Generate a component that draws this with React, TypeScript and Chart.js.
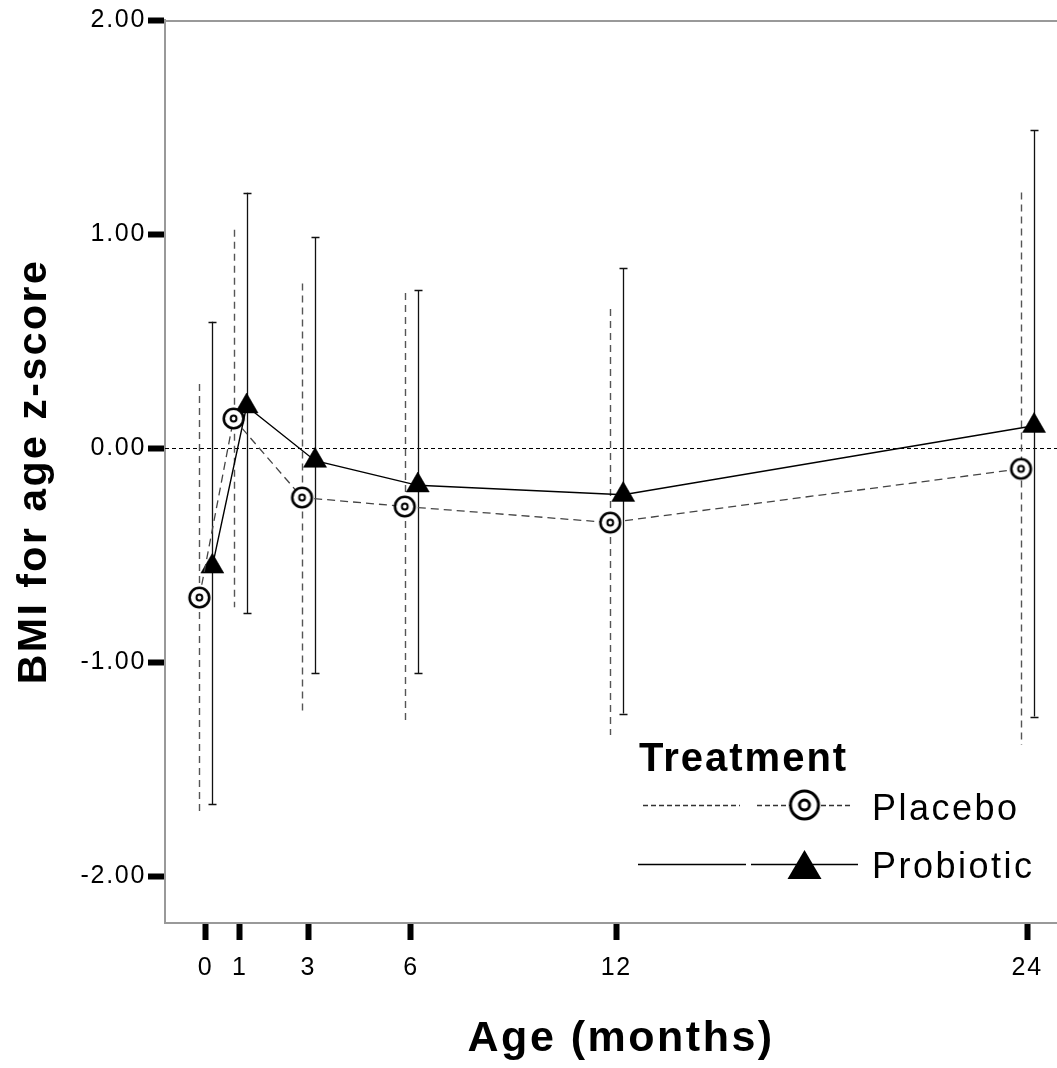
import React, { useEffect, useRef } from "react";
import { Chart, registerables } from "chart.js";

Chart.register(...registerables);

// ---------- data ----------
const months = [0, 1, 3, 6, 12, 24];
const seriesNames = ["Placebo", "Probiotic"];
const placeboMean = [-0.697, 0.139, -0.23, -0.272, -0.347, -0.096];
const placeboUpper = [0.3, 1.021, 0.769, 0.725, 0.65, 1.195];
const placeboLower = [-1.694, -0.742, -1.227, -1.27, -1.339, -1.386];
const probioticMean = [-0.552, 0.196, -0.058, -0.173, -0.217, 0.105];
const probioticUpper = [0.591, 1.193, 0.987, 0.737, 0.842, 1.485];
const probioticLower = [-1.663, -0.77, -1.049, -1.049, -1.239, -1.253];
const yTicks = [-2, -1, 0, 1, 2];
const placeboOffset = -0.18;
const probioticOffset = 0.2;
const legendTitle = "Treatment";
const xTitle = "Age (months)";
const yTitle = "BMI for age z-score";

const FONT = "'Liberation Sans', Arial, Helvetica, sans-serif";
const CANVAS_W = 1091; // plot runs past the right edge of the 1057px frame, as in the reference
const CANVAS_H = 1068;

function makeCircleMarker(outerR: number, innerR: number, outerW: number, innerW: number) {
  const size = Math.ceil((outerR + outerW) * 2 + 2);
  const c = document.createElement("canvas");
  c.width = size;
  c.height = size;
  const g = c.getContext("2d")!;
  const m = size / 2;
  g.beginPath();
  g.arc(m, m, outerR, 0, Math.PI * 2);
  g.fillStyle = "#fff";
  g.fill();
  g.lineWidth = outerW;
  g.strokeStyle = "#000";
  g.stroke();
  g.beginPath();
  g.arc(m, m, innerR, 0, Math.PI * 2);
  g.lineWidth = innerW;
  g.stroke();
  return c;
}

const spacingPlugin = {
  id: "letterSpacing",
  beforeDraw(chart: any) {
    (chart.ctx as any).letterSpacing = "2.5px"; // axis titles
  },
  afterDatasetsDraw(chart: any) {
    (chart.ctx as any).letterSpacing = "1.7px"; // tick labels (drawn after datasets, ticks.z = 1)
  },
};

const errorBarPlugin = {
  id: "errorBars",
  beforeDatasetsDraw(chart: any) {
    const { ctx, chartArea, scales } = chart;
    const x = scales.x;
    const y = scales.y;
    ctx.save();
    // top frame line
    ctx.beginPath();
    ctx.setLineDash([]);
    ctx.strokeStyle = "#999";
    ctx.lineWidth = 2;
    ctx.moveTo(chartArea.left, chartArea.top + 1);
    ctx.lineTo(chartArea.right, chartArea.top + 1);
    ctx.stroke();
    // zero reference line
    const y0 = Math.round(y.getPixelForValue(0)) + 0.5;
    ctx.beginPath();
    ctx.setLineDash([4, 3]);
    ctx.strokeStyle = "#000";
    ctx.lineWidth = 1;
    ctx.moveTo(chartArea.left, y0);
    ctx.lineTo(chartArea.right, y0);
    ctx.stroke();
    chart.data.datasets.forEach((ds: any) => {
      const lo: number[] = ds.errLower;
      const hi: number[] = ds.errUpper;
      ds.data.forEach((p: any, i: number) => {
        const px = Math.round(x.getPixelForValue(p.x)) + 0.5;
        const pHi = y.getPixelForValue(hi[i]);
        const pLo = y.getPixelForValue(lo[i]);
        ctx.beginPath();
        if (ds.errDashed) {
          ctx.setLineDash([7, 5]);
          ctx.strokeStyle = "#555";
          ctx.lineWidth = 1.4;
        } else {
          ctx.setLineDash([]);
          ctx.strokeStyle = "#111";
          ctx.lineWidth = 1.3;
        }
        ctx.moveTo(px, pHi);
        ctx.lineTo(px, pLo);
        ctx.stroke();
        if (ds.errCaps) {
          ctx.beginPath();
          ctx.setLineDash([]);
          ctx.moveTo(px - 4, Math.round(pHi) + 0.5);
          ctx.lineTo(px + 4, Math.round(pHi) + 0.5);
          ctx.moveTo(px - 4, Math.round(pLo) + 0.5);
          ctx.lineTo(px + 4, Math.round(pLo) + 0.5);
          ctx.stroke();
        }
      });
    });
    ctx.restore();
  },
};

function makeLegendPlugin(big: HTMLCanvasElement) {
  return {
    id: "customLegend",
    afterDraw(chart: any) {
      const { ctx } = chart;
      ctx.save();
      ctx.fillStyle = "#000";
      ctx.textBaseline = "alphabetic";
      ctx.textAlign = "left";
      ctx.letterSpacing = "2px";
      ctx.font = `bold 40px ${FONT}`;
      ctx.fillText(legendTitle, 639, 771);
      // Placebo row
      ctx.beginPath();
      ctx.setLineDash([5, 3]);
      ctx.strokeStyle = "#333";
      ctx.lineWidth = 1.3;
      ctx.moveTo(643, 805.5);
      ctx.lineTo(740, 805.5);
      ctx.moveTo(757, 805.5);
      ctx.lineTo(852, 805.5);
      ctx.stroke();
      ctx.setLineDash([]);
      ctx.drawImage(big, 804.5 - big.width / 2, 805 - big.height / 2);
      ctx.letterSpacing = "2.5px";
      ctx.font = `36px ${FONT}`;
      ctx.fillText(seriesNames[0], 872, 820);
      // Probiotic row
      ctx.beginPath();
      ctx.strokeStyle = "#000";
      ctx.lineWidth = 1.5;
      ctx.moveTo(638, 864.5);
      ctx.lineTo(746, 864.5);
      ctx.moveTo(751, 864.5);
      ctx.lineTo(858, 864.5);
      ctx.stroke();
      ctx.beginPath();
      ctx.moveTo(804.5, 850);
      ctx.lineTo(821.5, 879);
      ctx.lineTo(787.5, 879);
      ctx.closePath();
      ctx.fillStyle = "#000";
      ctx.fill();
      ctx.fillText(seriesNames[1], 872, 878);
      ctx.restore();
      ctx.letterSpacing = "0px";
    },
  };
}

export default function App() {
  const ref = useRef<HTMLCanvasElement | null>(null);

  useEffect(() => {
    if (!ref.current) return;
    const smallCircle = makeCircleMarker(9.8, 2.9, 2.6, 2);
    const bigCircle = makeCircleMarker(14, 5, 3, 3);

    const chart = new Chart(ref.current, {
      type: "scatter",
      data: {
        datasets: [
          {
            label: seriesNames[0],
            data: months.map((m, i) => ({ x: m + placeboOffset, y: placeboMean[i] })),
            showLine: true,
            borderColor: "#444",
            borderWidth: 1.3,
            borderDash: [8, 5],
            pointStyle: smallCircle as any,
            pointRadius: 11,
            pointHoverRadius: 11,
            backgroundColor: "#fff",
            errLower: placeboLower,
            errUpper: placeboUpper,
            errDashed: true,
            errCaps: false,
          } as any,
          {
            label: seriesNames[1],
            data: months.map((m, i) => ({ x: m + probioticOffset, y: probioticMean[i] })),
            showLine: true,
            borderColor: "#000",
            borderWidth: 1.4,
            pointStyle: "triangle",
            pointRadius: 13.3,
            pointHoverRadius: 13.3,
            pointBorderWidth: 0.5,
            pointBorderColor: "#000",
            pointBackgroundColor: "#000",
            backgroundColor: "#000",
            errLower: probioticLower,
            errUpper: probioticUpper,
            errDashed: false,
            errCaps: true,
          } as any,
        ],
      },
      options: {
        animation: false,
        responsive: false,
        events: [],
        layout: { padding: { top: 20, left: 0, right: 0, bottom: 0 } },
        plugins: {
          legend: { display: false },
          tooltip: { enabled: false },
        },
        scales: {
          x: {
            type: "linear",
            min: -1.183,
            max: 25.46,
            afterFit: (s: any) => {
              s.height = 145;
              s.paddingLeft = 0;
              s.paddingRight = 0;
            },
            afterBuildTicks: (s: any) => {
              s.ticks = months.map((v) => ({ value: v }));
            },
            ticks: {
              callback: (v: any) => String(v),
              color: "#000",
              font: { family: FONT, size: 25 },
              padding: 13,
              maxRotation: 0,
              autoSkip: false,
              z: 1,
            },
            grid: {
              display: true,
              drawOnChartArea: false,
              drawTicks: true,
              tickLength: 17,
              tickWidth: 6,
              tickColor: "#000",
            },
            border: { display: true, color: "#999", width: 2 },
            title: {
              display: true,
              text: xTitle,
              color: "#000",
              font: { family: FONT, size: 43, weight: "bold" },
              padding: { top: 0, bottom: 3 },
            },
          },
          y: {
            type: "linear",
            min: -2.217,
            max: 2,
            afterFit: (s: any) => {
              s.width = 165;
              s.paddingTop = 0;
              s.paddingBottom = 0;
            },
            afterBuildTicks: (s: any) => {
              s.ticks = yTicks.map((v) => ({ value: v }));
            },
            ticks: {
              callback: (v: any) => Number(v).toFixed(2),
              color: "#000",
              font: { family: FONT, size: 25 },
              padding: 2,
              autoSkip: false,
              z: 1,
            },
            grid: {
              display: true,
              drawOnChartArea: false,
              drawTicks: true,
              tickLength: 17,
              tickWidth: 6,
              tickColor: "#000",
            },
            border: { display: true, color: "#999", width: 2 },
            title: {
              display: true,
              text: yTitle,
              color: "#000",
              font: { family: FONT, size: 41, weight: "bold" },
              padding: { top: 10, bottom: 0 },
            },
          },
        },
      } as any,
      plugins: [spacingPlugin, errorBarPlugin, makeLegendPlugin(bigCircle)],
    });

    return () => {
      chart.destroy();
    };
  }, []);

  return (
    <div
      style={{
        position: "absolute",
        left: 0,
        top: 0,
        width: 1057,
        height: CANVAS_H,
        overflow: "hidden",
        background: "#fff",
      }}
    >
      <canvas ref={ref} width={CANVAS_W} height={CANVAS_H} style={{ display: "block" }} />
    </div>
  );
}
